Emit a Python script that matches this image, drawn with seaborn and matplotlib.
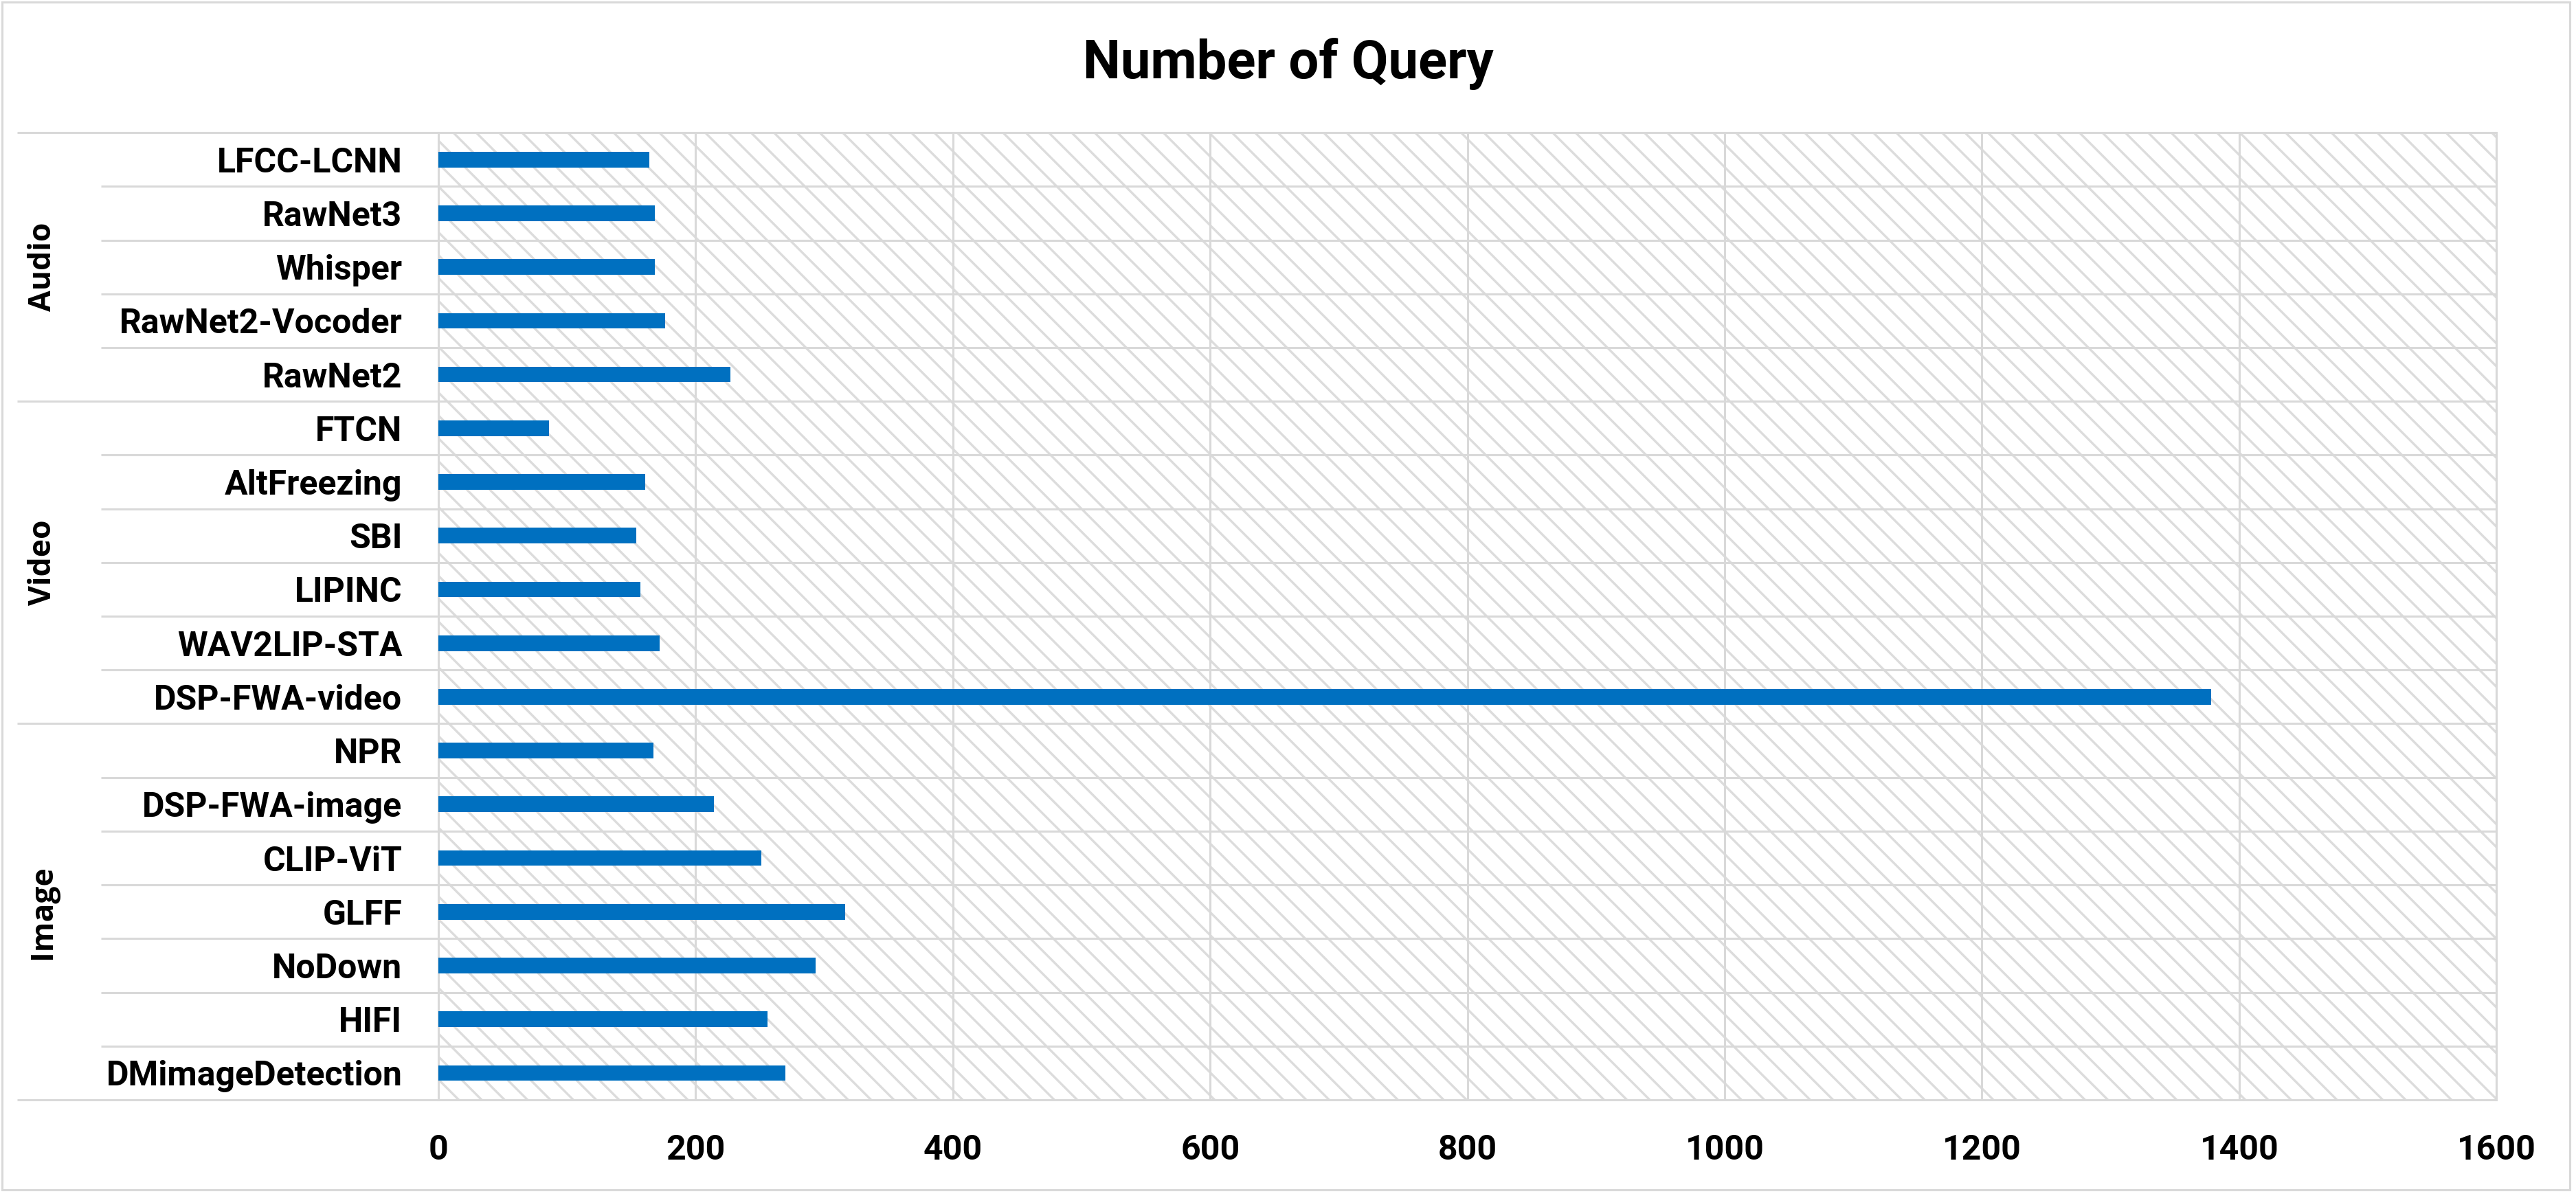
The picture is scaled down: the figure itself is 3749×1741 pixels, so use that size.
import matplotlib
matplotlib.use("Agg")
import matplotlib.pyplot as plt
import matplotlib.patches as mpatches
import seaborn as sns
import pandas as pd

# ---- data ----
models = ["LFCC-LCNN", "RawNet3", "Whisper", "RawNet2-Vocoder", "RawNet2",
          "FTCN", "AltFreezing", "SBI", "LIPINC", "WAV2LIP-STA", "DSP-FWA-video",
          "NPR", "DSP-FWA-image", "CLIP-ViT", "GLFF", "NoDown", "HIFI", "DMimageDetection"]
queries = [164, 168, 168, 176, 227,
           86, 161, 154, 157, 172, 1378,
           167, 214, 251, 316, 293, 256, 270]
groups = ["Audio", "Audio", "Audio", "Audio", "Audio",
          "Video", "Video", "Video", "Video", "Video", "Video",
          "Image", "Image", "Image", "Image", "Image", "Image", "Image"]
group_names = ["Audio", "Video", "Image"]
x_ticks = [0, 200, 400, 600, 800, 1000, 1200, 1400, 1600]
title = "Number of Query"

df = pd.DataFrame({"model": models, "queries": queries, "group": groups})

# ---- style ----
sns.set_theme(style="white")
plt.rcParams["font.family"] = ["Roboto", "DejaVu Sans"]
plt.rcParams["font.weight"] = "bold"
plt.rcParams["hatch.linewidth"] = 2.4

GRID = "#d9d9d9"
BAR = "#0070C0"

fig = plt.figure(figsize=(37.49, 17.41), dpi=100)
ax = fig.add_axes([0.1702, 0.0804, 0.9691 - 0.1702, 0.8891 - 0.0804])

# hatched plot background
bg = mpatches.Rectangle((0, 0), 1, 1, transform=ax.transAxes, facecolor="white",
                        edgecolor="#dcdcdc", hatch="\\", linewidth=0, zorder=0)
ax.add_patch(bg)

sns.barplot(data=df, x="queries", y="model", orient="h", color=BAR,
            saturation=1, width=0.29, ax=ax, zorder=3, linewidth=0)

ax.set_xlim(0, 1600)
ax.set_xticks(x_ticks)
ax.set_xticklabels([str(t) for t in x_ticks])
ax.set_xlabel("")
ax.set_ylabel("")

ax.grid(axis="x", color=GRID, linewidth=2.2, zorder=1)
ax.grid(axis="y", visible=False)
ax.set_axisbelow(True)
for s in ["top", "bottom"]:
    ax.spines[s].set_visible(False)
for s in ["left", "right"]:
    ax.spines[s].set_color(GRID)
    ax.spines[s].set_linewidth(2.2)

ax.tick_params(axis="y", length=0, pad=38, labelsize=36)
ax.tick_params(axis="x", length=0, pad=36, labelsize=36)
for lab in ax.get_xticklabels() + ax.get_yticklabels():
    lab.set_fontweight("bold")
    lab.set_color("black")

# category boundary lines (multi-level axis style)
n = len(models)
ytrans = ax.get_yaxis_transform()
group_bounds = set()
group_spans = []
for g in group_names:
    idx = [i for i, gg in enumerate(groups) if gg == g]
    group_spans.append((g, min(idx), max(idx)))
    group_bounds.add(min(idx) - 0.5)
    group_bounds.add(max(idx) + 0.5)
for i in range(n + 1):
    yb = i - 0.5
    x0 = -0.2047 if yb in group_bounds else -0.1639
    ax.plot([x0, 1], [yb, yb], transform=ytrans, color=GRID, linewidth=2.2,
            clip_on=False, zorder=2, solid_capstyle="butt")

# group labels
for g, a, b in group_spans:
    ax.text(-0.1923, (a + b) / 2, g, transform=ytrans, rotation=90,
            ha="center", va="center", fontsize=32, fontweight="bold",
            family=["Open Sans", "DejaVu Sans"], color="black")

ax.set_ylim(n - 0.5, -0.5)

# title
fig.text(0.5, 1 - 114 / 1741, title, ha="center", va="baseline",
         fontsize=56, fontweight="bold", color="black")

# chart area border
border = mpatches.Rectangle((3 / 3749, 9 / 1741), (3740 - 3) / 3749, (1741 - 9 - 3) / 1741,
                            transform=fig.transFigure, fill=False, edgecolor=GRID,
                            linewidth=2.2, zorder=10)
fig.patches.append(border)

fig.savefig("out.png", dpi=100, facecolor="white")
